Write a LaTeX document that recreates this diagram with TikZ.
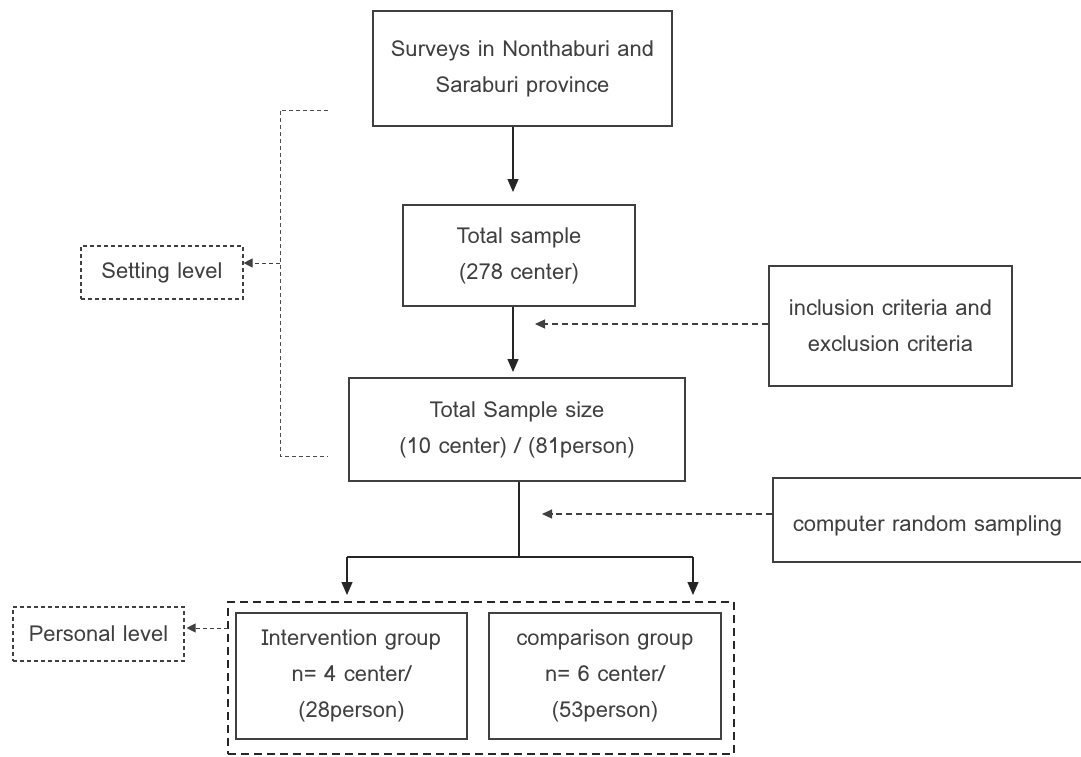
\documentclass[tikz,border=0pt]{standalone}
\usepackage{fontspec}
\setmainfont{Loma}
\usetikzlibrary{arrows.meta,calc}
\begin{document}
\begin{tikzpicture}[x=1pt,y=-1pt,
  txt/.style={font=\fontsize{22}{36}\selectfont, text=black!75, align=center, inner sep=0pt},
  solidbox/.style={txt, draw=black!75, line width=1.3pt, rectangle},
  dashbox/.style={txt, draw=black!75, line width=1.1pt, dash pattern=on 4pt off 3pt, rectangle},
  arr/.style={draw=black!85, line width=1.3pt, -{Triangle[length=13pt,width=11pt]}},
  darr/.style={draw=black!75, line width=1.2pt, dash pattern=on 6pt off 4pt, -{Triangle[length=10pt,width=9pt]}},
  sarr/.style={draw=black!75, line width=1pt, dash pattern=on 4pt off 3pt, -{Triangle[length=9pt,width=9pt]}},
  dline/.style={draw=black!70, line width=1pt, dash pattern=on 4pt off 3pt}]
\useasboundingbox (0,0) rectangle (1081,756);
\node[solidbox, minimum width=299pt, minimum height=115pt] (b1) at (522.5,68.5) {Surveys in Nonthaburi and\\Saraburi province};
\node[solidbox, minimum width=232pt, minimum height=101pt] (b2) at (519,255.5) {Total sample\\(278 center)};
\node[solidbox, minimum width=243pt, minimum height=120pt] (inc) at (890.5,326) {inclusion criteria and\\exclusion criteria};
\node[solidbox, minimum width=309pt, minimum height=84pt, align=left, text height=26pt, text depth=3pt] (cmp) at (927.5,520) {computer random sampling};
\node[solidbox, minimum width=336pt, minimum height=103pt] (b3) at (517,429.5) {Total Sample size\\(10 center) / (81person)};
\node[dashbox, minimum width=162pt, minimum height=53pt] (set) at (162,272.5) {Setting level};
\node[dashbox, minimum width=171pt, minimum height=54pt] (per) at (98.5,634) {Personal level};
\node[draw=black!85, line width=1.6pt, dash pattern=on 8pt off 5pt, minimum width=506pt, minimum height=152pt, inner sep=0pt] (grp) at (481,678) {};
\node[solidbox, line width=1.1pt, minimum width=231pt, minimum height=126pt] (iv) at (351.5,676) {Intervention group\\n= 4 center/\\(28person)};
\node[solidbox, line width=1.1pt, minimum width=232pt, minimum height=126pt] (cg) at (605,676) {comparison group\\n= 6 center/\\(53person)};

% solid flow
\coordinate (t1) at (513,192);
\draw[arr] (b1.south -| t1) -- (t1);
\coordinate (t2) at (513,372);
\draw[arr] (b2.south -| t2) -- (t2);
\coordinate (j) at (519,557);
\coordinate (jl) at (347,557);
\coordinate (jr) at (693,557);
\coordinate (tl) at (347,595);
\coordinate (tr) at (693,595);
\draw[draw=black!85, line width=1.3pt] (b3.south -| j) -- (j);
\draw[draw=black!85, line width=1.3pt] (jl) -- (jr);
\draw[arr] (jl) -- (tl);
\draw[arr] (jr) -- (tr);

% dashed side arrows
\coordinate (a1) at (535,324);
\draw[darr] (inc.west |- a1) -- (a1);
\coordinate (a2) at (542,514);
\draw[darr] (cmp.west |- a2) -- (a2);

% setting bracket
\coordinate (s1) at (328,110);
\coordinate (s2) at (280,110);
\coordinate (s3) at (280,456);
\coordinate (s4) at (328,456);
\coordinate (s5) at (280,263);
\draw[dline] (s1) -- (s2) -- (s3) -- (s4);
\draw[sarr] (s5) -- (set.east |- s5);
\coordinate (p1) at (228,628);
\draw[sarr] (p1) -- ($(per.east |- p1)+(2,0)$);
\end{tikzpicture}
\end{document}
